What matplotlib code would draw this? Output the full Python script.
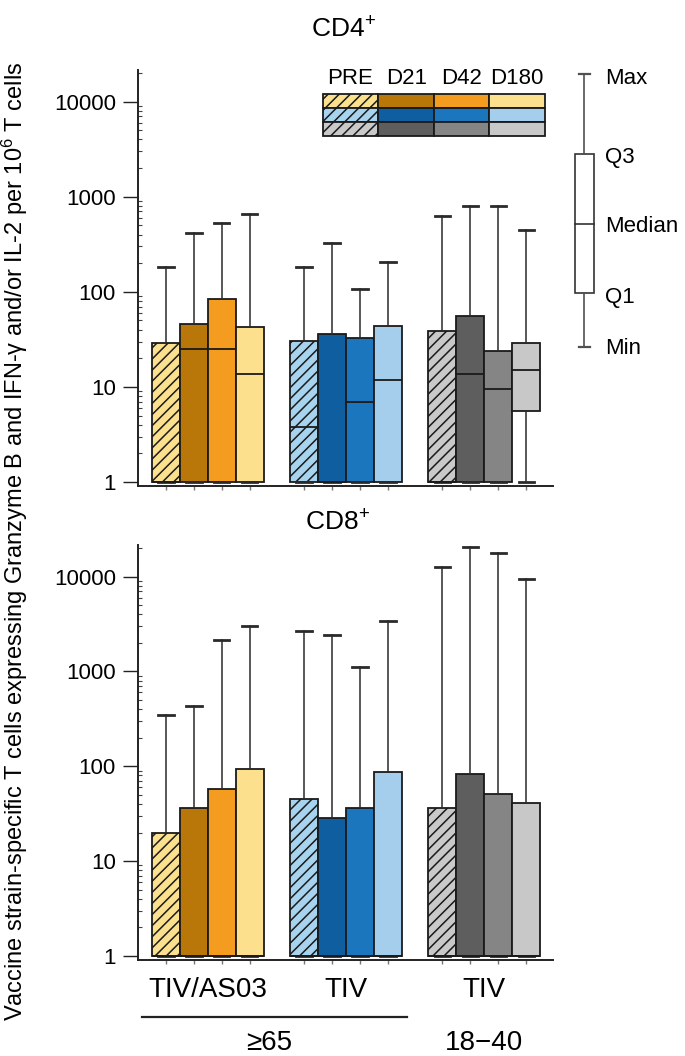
import matplotlib
matplotlib.use('Agg')
import matplotlib.pyplot as plt
import matplotlib.transforms as mtransforms
from matplotlib.patches import Rectangle
from matplotlib.ticker import FixedLocator, LogLocator, NullFormatter, FixedFormatter

plt.rcParams['font.family'] = ['Liberation Sans', 'DejaVu Sans']
plt.rcParams['mathtext.fontset'] = 'custom'
plt.rcParams['mathtext.rm'] = 'Liberation Sans'
plt.rcParams['mathtext.it'] = 'Liberation Sans:italic'
plt.rcParams['hatch.linewidth'] = 1.1

# ──────────────────────────────────────────────
# 데이터
# ──────────────────────────────────────────────
timepoints = ['PRE', 'D21', 'D42', 'D180']
groups = ['TIV/AS03', 'TIV', 'TIV']
ages = ['≥65', '18−40']

# CD4+ : rows = group, cols = PRE, D21, D42, D180
cd4_max = [[182, 414, 527, 662], [182, 326, 108, 204], [621, 790, 804, 450]]
cd4_q3 = [[29.3, 46.4, 83.4, 42.4], [30.2, 36.4, 32.7, 43.4], [38.8, 55.3, 23.9, 29.0]]
cd4_med = [[1, 25.3, 25.3, 13.6], [3.75, 1, 6.86, 11.8], [1, 13.8, 9.6, 15.0]]
cd4_q1 = [[1, 1, 1, 1], [1, 1, 1, 1], [1, 1, 1, 5.6]]
cd4_min = [[1, 1, 1, 1], [1, 1, 1, 1], [1, 1, 1, 1]]

# CD8+
cd8_max = [[350, 428, 2160, 3040], [2650, 2400, 1115, 3370], [12500, 20600, 17800, 9450]]
cd8_q3 = [[20.0, 36.7, 57.9, 93.4], [45.1, 28.8, 36.7, 86.0], [36.7, 83.4, 50.9, 40.9]]
cd8_med = [[1, 1, 1, 1], [1, 1, 1, 1], [1, 1, 1, 1]]
cd8_q1 = [[1, 1, 1, 1], [1, 1, 1, 1], [1, 1, 1, 1]]
cd8_min = [[1, 1, 1, 1], [1, 1, 1, 1], [1, 1, 1, 1]]

colors = [['#FBE08E', '#B97609', '#F39C1F', '#FCE08E'],
          ['#A7D3EF', '#0F5E9F', '#1B76BE', '#A4CEEB'],
          ['#C9C9C9', '#5E5E5E', '#858585', '#C8C8C8']]

group_start = [0, 4.95, 9.9]
positions = [g + j for g in group_start for j in range(4)]

W, H = 685, 1056
EDGE = '#1a1a1a'


def px_axes(left, top, right, bottom):
    """픽셀 경계 -> figure 좌표"""
    return [left / W, 1 - bottom / H, (right - left) / W, (bottom - top) / H]


def draw_panel(ax, q1, med, q3, lo, hi):
    stats = []
    for g in range(3):
        for j in range(4):
            stats.append(dict(med=med[g][j], q1=q1[g][j], q3=q3[g][j],
                              whislo=lo[g][j], whishi=hi[g][j], fliers=[]))
    bp = ax.bxp(stats, positions=positions, widths=1.0, patch_artist=True,
                showfliers=False, capwidths=0.55,
                boxprops=dict(linewidth=1.3, edgecolor=EDGE),
                whiskerprops=dict(color='#2a2a2a', linewidth=1.1),
                capprops=dict(color='#2a2a2a', linewidth=2.0),
                medianprops=dict(color=EDGE, linewidth=1.3))
    for k, patch in enumerate(bp['boxes']):
        g, j = divmod(k, 4)
        patch.set_facecolor(colors[g][j])
        if j == 0:
            patch.set_hatch('///')

    ax.set_yscale('log')
    ax.set_ylim(0.908, 21500)
    ax.set_xlim(-1.0, 13.86)
    ax.yaxis.set_major_locator(FixedLocator([1, 10, 100, 1000, 10000]))
    ax.yaxis.set_major_formatter(FixedFormatter(['1', '10', '100', '1000', '10000']))
    ax.yaxis.set_minor_locator(LogLocator(base=10, subs=range(2, 10)))
    ax.yaxis.set_minor_formatter(NullFormatter())
    ax.tick_params(axis='y', which='major', direction='out', length=11, width=1.0,
                   labelsize=16, pad=5, color='#222')
    ax.tick_params(axis='y', which='minor', direction='in', length=3, width=0.8, color='#444')
    ax.set_xticks(positions)
    ax.set_xticklabels([])
    ax.tick_params(axis='x', direction='out', length=3, width=1.0, color='#777')
    for s in ['top', 'right']:
        ax.spines[s].set_visible(False)
    for s in ['left', 'bottom']:
        ax.spines[s].set_linewidth(1.4)
        ax.spines[s].set_color('#222')


fig = plt.figure(figsize=(W / 100, H / 100), dpi=100)

ax1 = fig.add_axes(px_axes(138, 70, 553, 486))
draw_panel(ax1, cd4_q1, cd4_med, cd4_q3, cd4_min, cd4_max)

ax2 = fig.add_axes(px_axes(138, 545, 553, 960))
draw_panel(ax2, cd8_q1, cd8_med, cd8_q3, cd8_min, cd8_max)

# 그룹 라벨 (아래 패널 밑)
trans = mtransforms.blended_transform_factory(ax2.transData, ax2.transAxes)
for g, name in enumerate(groups):
    cx = group_start[g] + 1.5
    ax2.text(cx, -0.072, name, transform=trans, ha='center', va='center', fontsize=20)
ax2.plot([positions[0] - 0.87, positions[7] + 0.67], [-0.137, -0.137], transform=trans,
         color='#222', lw=1.6, clip_on=False)
ax2.text(3.7, -0.2, ages[0], transform=trans, ha='center', va='center', fontsize=20)
ax2.text(group_start[2] + 1.5, -0.2, ages[1], transform=trans, ha='center', va='center', fontsize=20)

# ──────────────────────────────────────────────
# 오버레이: 제목, 범례 표, 박스 설명
# ──────────────────────────────────────────────
ov = fig.add_axes([0, 0, 1, 1], zorder=5)
ov.set_xlim(0, W)
ov.set_ylim(H, 0)
ov.axis('off')
ov.patch.set_alpha(0)

ov.text(343, 30, 'CD4$^{+}$', ha='center', va='center', fontsize=19)
ov.text(337, 523, 'CD8$^{+}$', ha='center', va='center', fontsize=19)

fig.text(15 / W, 1 - 541 / H,
         'Vaccine strain-specific T cells expressing Granzyme B and IFN-γ and/or IL-2 per 10$^{6}$ T cells',
         rotation=90, ha='center', va='center', fontsize=17)

# 범례 표
cell_x = [322.7, 378.3, 434, 489.3, 545]
row_y = [94.3, 108.3, 122.3]
cell_h = 13.7
for j, tp in enumerate(timepoints):
    ov.text((cell_x[j] + cell_x[j + 1]) / 2, 79, tp, ha='center', va='center', fontsize=16)
for g in range(3):
    for j in range(4):
        r = Rectangle((cell_x[j], row_y[g]), cell_x[j + 1] - cell_x[j], cell_h,
                      facecolor=colors[g][j], edgecolor=EDGE, lw=1.3,
                      hatch='///' if j == 0 else None)
        ov.add_patch(r)

# 박스 설명 (Max / Q3 / Median / Q1 / Min)
kx = 584.3
kc = '#505050'
ov.plot([kx, kx], [74, 154], color=kc, lw=1.2)
ov.plot([kx, kx], [293, 347], color=kc, lw=1.2)
ov.plot([kx - 5.5, kx + 5.5], [74, 74], color=kc, lw=1.6)
ov.plot([kx - 5.5, kx + 5.5], [347, 347], color=kc, lw=1.6)
ov.add_patch(Rectangle((575, 154), 19.3, 139, facecolor='white', edgecolor='#333', lw=1.2))
ov.plot([575, 594.3], [224, 224], color='#333', lw=1.2)
for label, yy in [('Max', 79), ('Q3', 158), ('Median', 226), ('Q1', 298), ('Min', 348)]:
    ov.text(605, yy, label, ha='left', va='center', fontsize=16)

fig.savefig('out.png', dpi=100, facecolor='white')
plt.close(fig)
